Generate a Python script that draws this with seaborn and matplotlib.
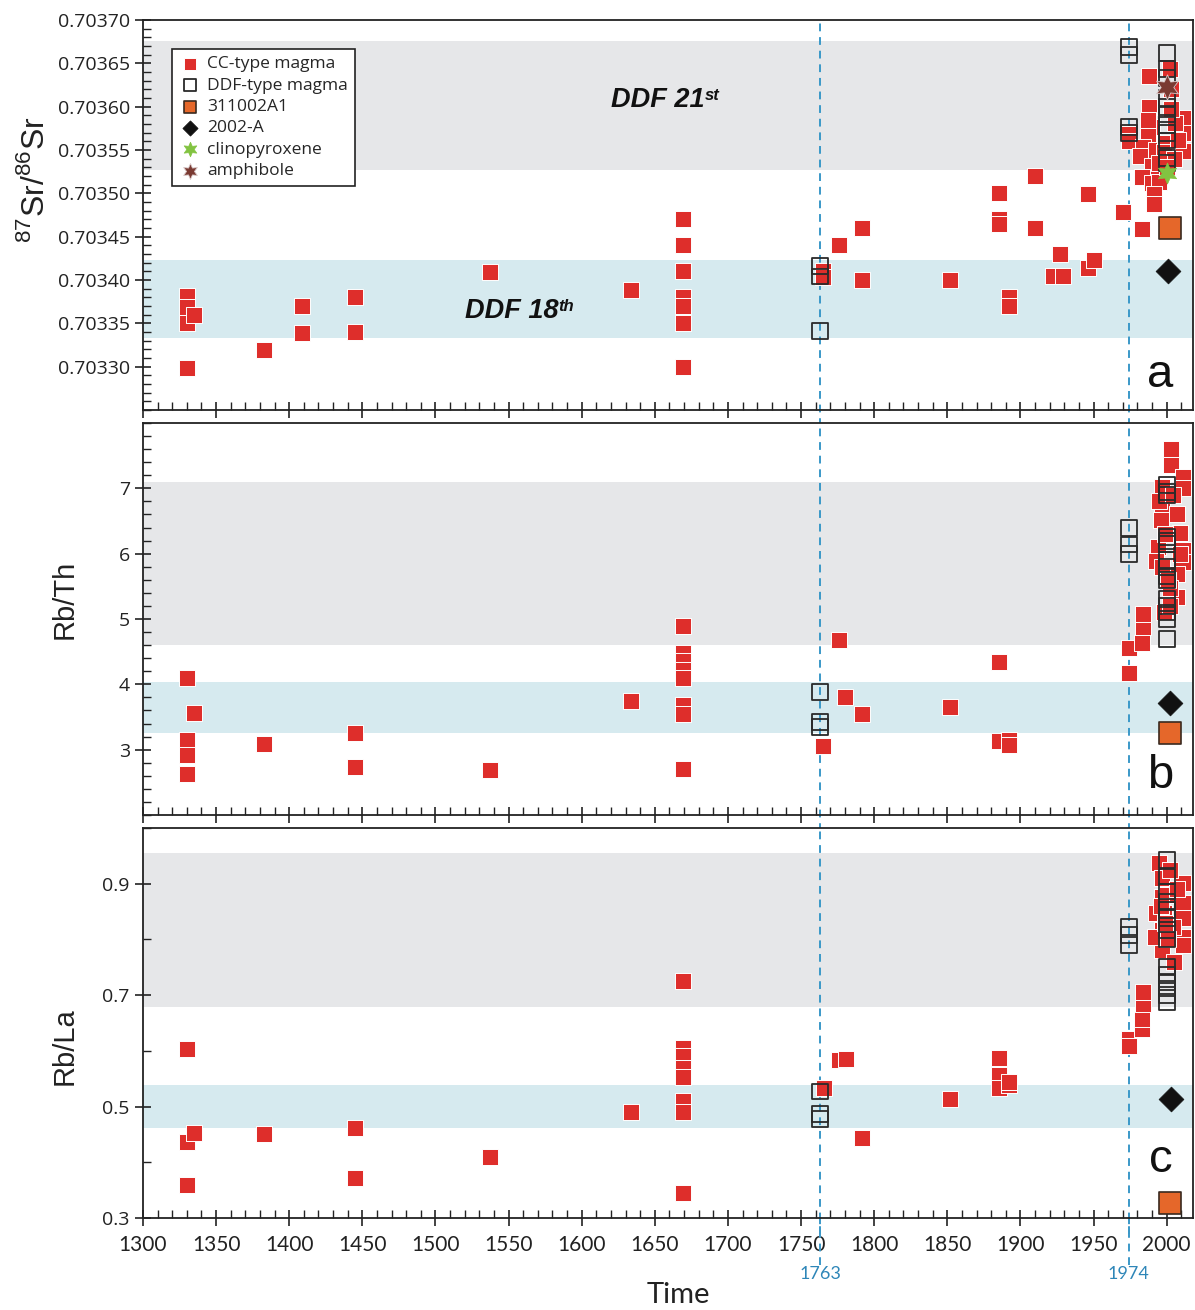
import numpy as np
import pandas as pd
import matplotlib
matplotlib.use("Agg")
import matplotlib.pyplot as plt
import seaborn as sns
from matplotlib.ticker import MultipleLocator, FormatStrFormatter

# ---------------- data ----------------
# Panel a : 87Sr/86Sr
a_cc_year = [1330, 1330, 1330, 1330, 1335, 1383, 1409, 1409, 1445, 1445, 1537, 1634,
             1669, 1669, 1669, 1669, 1669, 1669, 1669, 1765, 1765, 1776, 1792, 1792, 1852,
             1885, 1885, 1885, 1892, 1892, 1910, 1910, 1922, 1929, 1927, 1946, 1950, 1946,
             1970, 1974, 1974, 1983,
             1988, 1988, 2002, 2011, 2011, 2011, 1990, 1987, 1984, 1993, 1982, 1999, 1998,
             1990, 1983, 1990, 1995, 1991, 1991, 2006, 2008, 2003, 1987, 2003, 2005, 1995, 2000]
a_cc_val = [0.703381, 0.703369, 0.703350, 0.703299, 0.703360, 0.703319, 0.703370, 0.703339,
            0.703380, 0.703340, 0.703409, 0.703389,
            0.703470, 0.703440, 0.703410, 0.703380, 0.703370, 0.703350, 0.703300,
            0.703410, 0.703404, 0.703440, 0.703460, 0.703400, 0.703400,
            0.703500, 0.703470, 0.703465, 0.703380, 0.703370, 0.703520, 0.703460,
            0.703405, 0.703405, 0.703430, 0.703414, 0.703423, 0.703499,
            0.703479, 0.703568, 0.703560, 0.703459,
            0.703635, 0.703600, 0.703643, 0.703587, 0.703570, 0.703549, 0.703577, 0.703566,
            0.703554, 0.703550, 0.703543, 0.703558, 0.703548, 0.703531, 0.703519, 0.703512,
            0.703513, 0.703499, 0.703488, 0.703581, 0.703562, 0.703597, 0.703585, 0.703620,
            0.703540, 0.703535, 0.703530]
a_ddf_year = [1763, 1763, 1763, 1974, 1974, 1974, 1974,
              2000, 2000, 2000, 2000, 2000, 2000, 2000, 2000, 2000, 2000, 2000]
a_ddf_val = [0.703416, 0.703404, 0.703341, 0.703669, 0.703660, 0.703577, 0.703570,
             0.703662, 0.703643, 0.703633, 0.703610, 0.703600, 0.703591, 0.703579,
             0.703570, 0.703561, 0.703541, 0.703535]
a_s311_year, a_s311_val = [2002], [0.703460]
a_s2002_year, a_s2002_val = [2001], [0.703410]
a_cpx_year, a_cpx_val = [2000], [0.703523]
a_amph_year, a_amph_val = [2000], [0.703623]

# Panel b : Rb/Th
b_cc_year = [1330, 1330, 1330, 1330, 1335, 1383, 1445, 1445, 1537, 1634,
             1669, 1669, 1669, 1669, 1669, 1669, 1669, 1669, 1765, 1776, 1780, 1792, 1852,
             1885, 1885, 1892, 1892, 1974, 1974, 1983, 1984, 1984,
             2003, 2003, 2011, 2011, 1997, 1997, 2007, 1996, 2009, 2011, 2011, 1994, 1993,
             2007, 2007, 2002, 1997, 2009, 1999, 2001, 1995, 2004, 1998, 2002]
b_cc_val = [4.10, 3.15, 2.92, 2.63, 3.56, 3.08, 3.25, 2.74, 2.69, 3.74,
            4.90, 4.48, 4.35, 4.22, 4.10, 3.68, 3.55, 2.70, 3.06, 4.68, 3.80, 3.54, 3.65,
            4.34, 3.13, 3.15, 3.07, 4.56, 4.17, 4.64, 4.87, 5.07,
            7.60, 7.35, 7.17, 7.00, 7.02, 6.69, 6.61, 6.51, 6.31, 6.05, 5.87, 6.10, 5.89,
            5.69, 5.33, 5.48, 5.79, 6.00, 6.30, 5.60, 6.80, 6.90, 5.10, 5.20]
b_ddf_year = [1763, 1763, 1763, 1974, 1974, 1974] + [2000] * 15
b_ddf_val = [3.88, 3.42, 3.35, 6.39, 6.14, 6.00,
             7.05, 6.95, 6.90, 6.25, 6.20, 6.15, 5.90, 5.80, 5.65, 5.60, 5.30, 5.20, 5.10, 5.00, 4.70]
b_s311_year, b_s311_val = [2002], [3.25]
b_s2002_year, b_s2002_val = [2002], [3.71]

# Panel c : Rb/La
c_cc_year = [1330, 1330, 1330, 1335, 1383, 1445, 1445, 1537, 1634,
             1669, 1669, 1669, 1669, 1669, 1669, 1669, 1669, 1766, 1776, 1781, 1792, 1852,
             1885, 1885, 1885, 1892, 1892, 1974, 1974, 1983, 1983, 1984, 1984,
             1995, 2011, 2011, 2011, 2011, 2011, 1997, 1997, 1998, 1997, 1997, 1997, 2005,
             2002, 2004, 1993, 1992, 2000, 1996, 2001, 2007, 1999]
c_cc_val = [0.603, 0.436, 0.360, 0.452, 0.451, 0.462, 0.372, 0.410, 0.491,
            0.725, 0.605, 0.590, 0.570, 0.553, 0.510, 0.490, 0.345, 0.534, 0.583, 0.585, 0.443, 0.514,
            0.587, 0.556, 0.534, 0.538, 0.545, 0.622, 0.608, 0.640, 0.658, 0.685, 0.706,
            0.937, 0.901, 0.865, 0.838, 0.805, 0.790, 0.910, 0.877, 0.847, 0.817, 0.793, 0.781, 0.760,
            0.925, 0.823, 0.847, 0.805, 0.880, 0.860, 0.800, 0.890, 0.830]
c_ddf_year = [1763, 1763, 1763, 1974, 1974, 1974] + [2000] * 14
c_ddf_val = [0.527, 0.486, 0.477, 0.823, 0.808, 0.790,
             0.943, 0.913, 0.886, 0.868, 0.853, 0.838, 0.817, 0.800, 0.751, 0.736, 0.724, 0.712, 0.700, 0.688]
c_s311_year, c_s311_val = [2002], [0.327]
c_s2002_year, c_s2002_val = [2003], [0.514]

# reference bands (gray = DDF 21st, blue = DDF 18th)
a_gray, a_blue = (0.703527, 0.703676), (0.703333, 0.703423)
b_gray, b_blue = (4.60, 7.09), (3.25, 4.03)
c_gray, c_blue = (0.678, 0.955), (0.462, 0.538)

event_years = [1763, 1974]
legend_labels = ["CC-type magma", "DDF-type magma", "311002A1", "2002-A",
                 "clinopyroxene", "amphibole"]

# ---------------- style ----------------
sns.set_theme(style="white")
plt.rcParams["font.family"] = ["Open Sans", "DejaVu Sans"]
plt.rcParams["axes.edgecolor"] = "#222222"
plt.rcParams["axes.linewidth"] = 1.3
plt.rcParams["mathtext.fontset"] = "custom"
plt.rcParams["mathtext.rm"] = "Liberation Sans"

RED = "#DE2E2B"
GRAY = "#E6E7E9"
BLUE = "#D6EAEF"
LINE = "#3A98C8"
ORANGE = "#E5672A"
GREEN = "#82C341"
BROWN = "#7A3A32"
STAR = (6, 1, 0)
NARROW = ["Liberation Sans Narrow", "Lato", "DejaVu Sans"]

fig = plt.figure(figsize=(11.95, 13.1), dpi=100)
L, W = 143 / 1195, 1050 / 1195
ax_a = fig.add_axes([L, 1 - 410 / 1310, W, 390 / 1310])
ax_b = fig.add_axes([L, 1 - 815 / 1310, W, 392 / 1310])
ax_c = fig.add_axes([L, 1 - 1218 / 1310, W, 390 / 1310])


def panel(ax, gray, blue, cc, ddf, s311, s2002, cpx=None, amph=None):
    ax.axhspan(*gray, color=GRAY, lw=0, zorder=0)
    ax.axhspan(*blue, color=BLUE, lw=0, zorder=0)
    handles = []
    sns.scatterplot(x=cc[0], y=cc[1], marker="s", s=120, color=RED,
                    edgecolor="white", linewidth=0.7, ax=ax, zorder=3)
    handles.append(ax.collections[-1])
    sns.scatterplot(x=ddf[0], y=ddf[1], marker="s", s=130, facecolor="none",
                    edgecolor="#2a2a2a", linewidth=1.3, ax=ax, zorder=4)
    handles.append(ax.collections[-1])
    sns.scatterplot(x=s311[0], y=s311[1], marker="s", s=230, color=ORANGE,
                    edgecolor="#3a2a20", linewidth=1.2, ax=ax, zorder=5)
    handles.append(ax.collections[-1])
    sns.scatterplot(x=s2002[0], y=s2002[1], marker="D", s=160, color="#111111",
                    edgecolor="#111111", linewidth=0.5, ax=ax, zorder=5)
    handles.append(ax.collections[-1])
    if cpx is not None:
        sns.scatterplot(x=cpx[0], y=cpx[1], marker=STAR, s=230, color=GREEN,
                        edgecolor=GREEN, linewidth=0.5, ax=ax, zorder=6)
        handles.append(ax.collections[-1])
        sns.scatterplot(x=amph[0], y=amph[1], marker=STAR, s=330, color=BROWN,
                        edgecolor="#d9c9c9", linewidth=0.6, ax=ax, zorder=6)
        handles.append(ax.collections[-1])
    for yr in event_years:
        ax.axvline(yr, color=LINE, lw=1.4, ls=(0, (4, 3)), zorder=2,
                   ymin=-0.04, ymax=1.0, clip_on=False)
    ax.set_xlim(1300, 2018)
    ax.xaxis.set_major_locator(MultipleLocator(50))
    ax.xaxis.set_minor_locator(MultipleLocator(10))
    ax.tick_params(axis="both", which="major", direction="inout", length=12, width=1.2,
                   color="#222222", labelsize=14)
    ax.tick_params(axis="both", which="minor", direction="in", length=6, width=1.0,
                   color="#222222")
    ax.tick_params(axis="x", which="both", top=False, bottom=True)
    ax.tick_params(axis="y", which="both", left=True, right=False)
    for sp in ax.spines.values():
        sp.set_visible(True)
        sp.set_color("#222222")
    ax.set_xlabel("")
    ax.set_ylabel("")
    return handles


hs = panel(ax_a, a_gray, a_blue, (a_cc_year, a_cc_val), (a_ddf_year, a_ddf_val),
           (a_s311_year, a_s311_val), (a_s2002_year, a_s2002_val),
           (a_cpx_year, a_cpx_val), (a_amph_year, a_amph_val))
panel(ax_b, b_gray, b_blue, (b_cc_year, b_cc_val), (b_ddf_year, b_ddf_val),
      (b_s311_year, b_s311_val), (b_s2002_year, b_s2002_val))
panel(ax_c, c_gray, c_blue, (c_cc_year, c_cc_val), (c_ddf_year, c_ddf_val),
      (c_s311_year, c_s311_val), (c_s2002_year, c_s2002_val))

# y axes
ax_a.set_ylim(0.70325, 0.70370)
ax_a.yaxis.set_minor_locator(MultipleLocator(0.00001))
ax_a.set_yticks(list(np.arange(0.70330, 0.703701, 0.00005)))
ax_a.yaxis.set_major_formatter(FormatStrFormatter("%.5f"))

ax_b.set_ylim(2.0, 8.0)
ax_b.set_yticks([3, 4, 5, 6, 7])
ax_b.yaxis.set_minor_locator(MultipleLocator(0.2))

ax_c.set_ylim(0.3, 1.0)
ax_c.set_yticks([0.3, 0.5, 0.7, 0.9])
ax_c.yaxis.set_minor_locator(MultipleLocator(0.1))
ax_c.yaxis.set_major_formatter(FormatStrFormatter("%.1f"))

for ax in (ax_a, ax_b):
    ax.tick_params(axis="x", labelbottom=False)
for ax in (ax_a, ax_b, ax_c):
    for lab in ax.get_yticklabels():
        lab.set_fontsize(14)
        lab.set_color("#222222")
for lab in ax_c.get_xticklabels():
    lab.set_family(NARROW)
    lab.set_fontsize(15)
    lab.set_color("#222222")
ax_c.tick_params(axis="x", pad=6)

# dashed event lines continue down to their labels
for yr in event_years:
    ax_c.axvline(yr, color=LINE, lw=1.4, ls=(0, (4, 3)), zorder=2,
                 ymin=-0.12, ymax=0.0, clip_on=False)
    ax_c.text(yr, -0.123, str(yr), transform=ax_c.get_xaxis_transform(),
              ha="center", va="top", color="#2E86B8", fontsize=13, family=NARROW)

# axis labels
ax_a.set_ylabel(r"$^{87}$Sr/$^{86}$Sr", fontsize=23, color="#222222",
                family=["Liberation Sans", "DejaVu Sans"])
ax_a.yaxis.set_label_coords(-0.088, 0.59)
ax_b.set_ylabel("Rb/Th", fontsize=21, color="#222222",
                family=["Liberation Sans", "DejaVu Sans"])
ax_b.yaxis.set_label_coords(-0.061, 0.55)
ax_c.set_ylabel("Rb/La", fontsize=21, color="#222222",
                family=["Liberation Sans", "DejaVu Sans"])
ax_c.yaxis.set_label_coords(-0.061, 0.44)
ax_c.set_xlabel("Time", fontsize=21, color="#222222", family=NARROW)
ax_c.xaxis.set_label_coords(0.51, -0.165)

# band annotations
BI = dict(fontweight="bold", style="italic", family=["Liberation Sans", "DejaVu Sans"],
          color="#111111")
t1 = ax_a.text(1620, 0.703608, "DDF 21", fontsize=19.5, va="center", ha="left", **BI)
ax_a.annotate("st", xy=(1.0, 0.95), xycoords=t1, fontsize=12, va="top", ha="left", **BI)
t2 = ax_a.text(1520, 0.703364, "DDF 18", fontsize=19.5, va="center", ha="left", **BI)
ax_a.annotate("th", xy=(1.0, 0.95), xycoords=t2, fontsize=12, va="top", ha="left", **BI)

# panel letters
for ax, letter, yy in ((ax_a, "a", 0.09), (ax_b, "b", 0.10), (ax_c, "c", 0.15)):
    ax.text(0.969, yy, letter, transform=ax.transAxes, fontsize=34, ha="center",
            va="center", color="#111111", family=["Liberation Sans", "DejaVu Sans"])

leg = ax_a.legend(hs, legend_labels, loc="upper left", bbox_to_anchor=(0.028, 0.925),
                  frameon=True, fancybox=False, edgecolor="#222222", facecolor="white",
                  framealpha=1.0, fontsize=12.5, handletextpad=0.4, labelspacing=0.3,
                  borderpad=0.4, handlelength=1.2, borderaxespad=0.0)
for h, sz in zip(leg.legend_handles, [70, 80, 70, 60, 110, 130]):
    h.set_sizes([sz])
leg.get_frame().set_linewidth(1.2)
leg.set_zorder(10)

fig.savefig("out.png", dpi=100, facecolor="white")
